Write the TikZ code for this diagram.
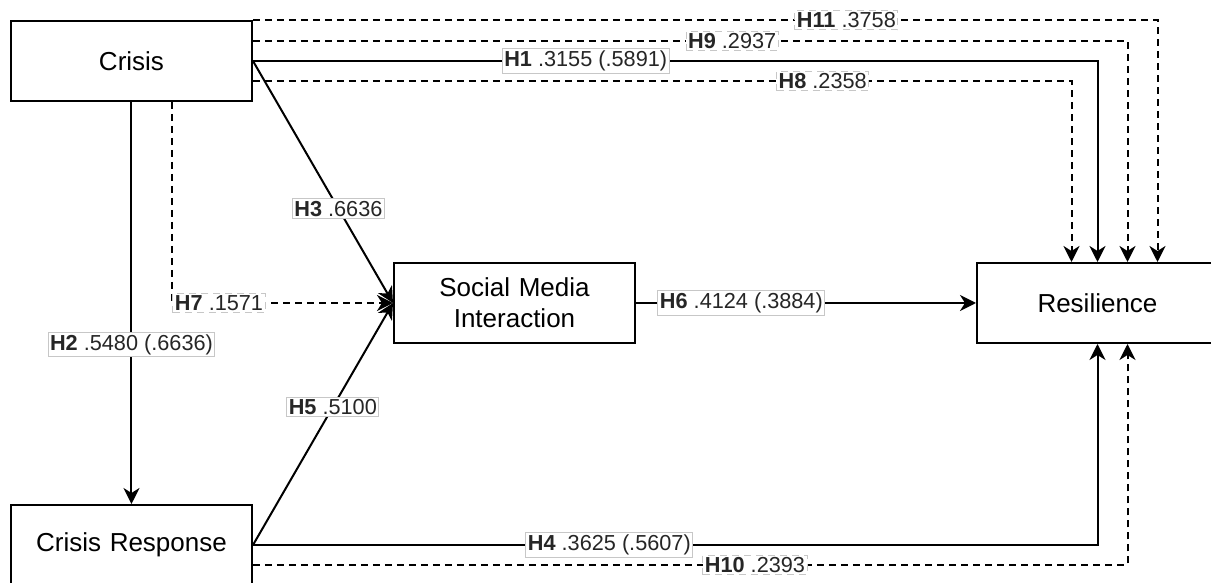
\documentclass[tikz,border=0pt]{standalone}
\usepackage{fontspec}
\setmainfont{Liberation Sans}
\usepackage{xcolor}
\usetikzlibrary{matrix}
\usetikzlibrary{arrows.meta}

\tikzset{
  box/.style={draw, line width=1pt, minimum width=120.5pt, minimum height=40pt,
    text width=100pt, align=center, inner sep=0pt, anchor=center,
    font=\fontsize{13}{15.5}\selectfont},
  hyp/.style={draw=black!22, line width=0.5pt, fill=white, inner sep=1pt,
    text=black!85, font=\fontsize{10.85}{13}\selectfont},
  link/.style={line width=1pt},
  maybe/.style={line width=1pt, dash pattern=on 3.5pt off 2.5pt}
}

\begin{document}
\begin{tikzpicture}[>={Stealth[length=8pt,width=8pt,inset=2.5pt]}]
            \matrix (model) [%
              matrix of nodes,
              nodes={box},
              column sep=70pt,
              row sep=80pt,
              ampersand replacement=\&
            ]
                  {
              Crisis          \&                          \&[100pt]            \\
                              \& Social Media Interaction \&         Resilience \\
              Crisis Response \&                          \&                    \\
            };
            \draw[maybe,->] (model-1-1.north east) -| ([xshift=30pt]model-2-3.north) node [hyp,pos=0.328]{\textbf{H11} .3758} ;
            \draw[maybe,->] ([yshift=10pt]model-1-1.east) -| ([xshift=15pt]model-2-3.north) node [hyp,pos=0.274]{\textbf{H9} .2937} ;
            \draw[link,->] (model-1-1.east) -| (model-2-3.north) node [hyp,pos=0.197]{\textbf{H1} .3155 (.5891)} ;
            \draw[maybe,->] ([yshift=-10pt]model-1-1.east) -| ([xshift=-13pt]model-2-3.north) node [hyp,pos=0.348]{\textbf{H8} .2358} ;
            \draw[link,->] (model-1-1) -- (model-3-1) node [hyp,pos=0.604]{\textbf{H2} .5480 (.6636)} ;
            \draw[maybe,->] ([xshift=20.5pt]model-1-1.south) |- (model-2-2.west) node [hyp,pos=0.5,anchor=west]{\textbf{H7} .1571} ;
            \draw[link,->] (model-1-1.east) -- (model-2-2.west) node [hyp,pos=0.61]{\textbf{H3} .6636} ;
            \draw[link,->] (model-3-1.east) -- (model-2-2.west) node [hyp,pos=0.57]{\textbf{H5} .5100} ;
            \draw[link,->] (model-2-2) -- (model-2-3) node [hyp,pos=0.31]{\textbf{H6} .4124 (.3884)} ;
            \draw[link,->] (model-3-1.east) -| (model-2-3.south) node [hyp,pos=0.211]{\textbf{H4} .3625 (.5607)} ;
            \draw[maybe,->] ([yshift=-10pt]model-3-1.east) -| ([xshift=15pt]model-2-3.south) node [hyp,pos=0.287]{\textbf{H10} .2393} ;
            \pgfresetboundingbox
            \useasboundingbox ([shift={(-5pt,10pt)}]model-1-1.north west) rectangle ++(605.5pt,-291.5pt);
        \end{tikzpicture}
\end{document}
